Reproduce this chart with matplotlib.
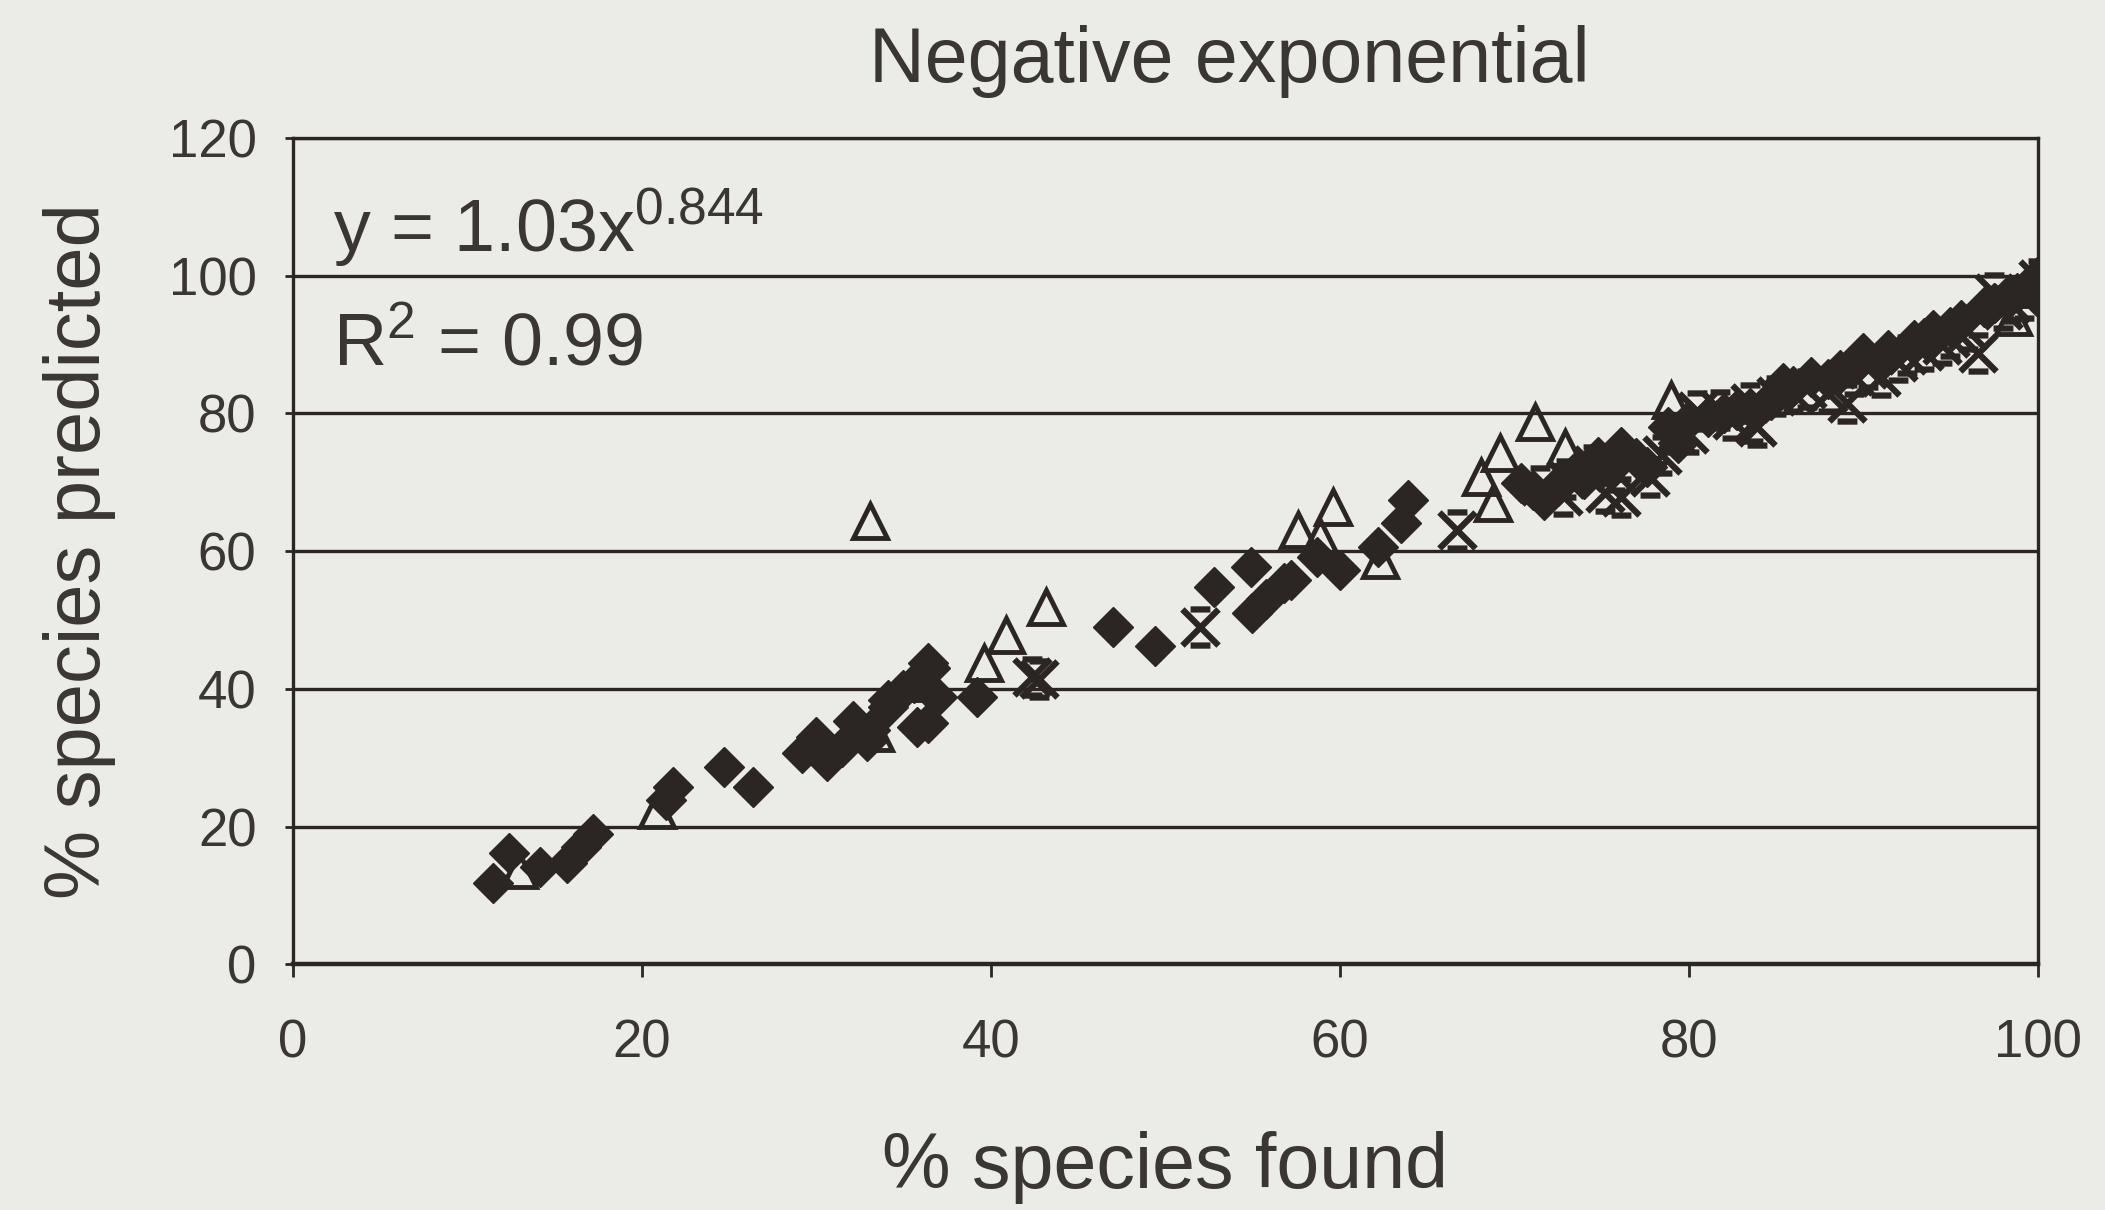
#
# Negative exponential: % species predicted vs % species found
#

import numpy as np
import matplotlib.pyplot as plt
from matplotlib.path import Path

# data (% found, % predicted)
diamondX = [11.5, 12.4, 14.2, 15.7, 16.5, 17.2, 21.4, 21.8, 24.7, 26.4,
            29.2, 30.0, 30.6, 31.5, 32.1, 32.9, 33.1, 34.1, 34.1, 35.0,
            35.6, 35.8, 36.4, 36.4, 36.5, 36.9, 39.2, 47.0, 49.4, 52.8,
            54.9, 55.0, 55.8, 56.8, 57.2, 58.7, 60.0, 62.2, 63.5, 63.9,
            70.4, 71.1, 71.7, 72.5, 73.6, 74.8, 76.1, 77.6, 78.8, 79.4,
            81.1, 82.8, 84.7, 85.4, 87.0, 88.7, 90.0, 91.4, 92.9, 94.0,
            95.6, 96.9, 99.8, 74.0, 75.5, 77.0, 80.0, 82.0, 83.5, 86.0,
            88.0, 89.5, 91.0, 93.5, 95.0, 97.5, 98.8, 100.0, 100.0]
diamondY = [11.8, 16.1, 14.1, 14.7, 17.0, 19.0, 23.8, 25.7, 28.6, 25.7,
            30.7, 33.0, 29.6, 31.5, 35.4, 32.5, 34.0, 37.3, 38.4, 39.8,
            40.8, 34.4, 35.0, 43.7, 43.1, 38.8, 38.8, 49.0, 46.3, 54.8,
            57.7, 51.0, 53.0, 55.4, 55.8, 59.1, 57.2, 60.6, 64.1, 67.4,
            69.9, 68.9, 67.4, 69.5, 71.8, 73.7, 75.1, 72.2, 78.0, 75.7,
            79.5, 80.5, 81.9, 84.4, 85.3, 86.3, 88.8, 89.2, 90.7, 92.1,
            93.6, 95.5, 98.9, 70.5, 72.0, 73.5, 79.0, 80.0, 80.8, 84.0,
            85.0, 87.0, 88.0, 91.0, 92.5, 96.0, 97.5, 100.0, 97.5]

triangleX = [13.0, 20.9, 33.1, 33.4, 35.8, 39.6, 40.9, 43.2, 57.6, 58.9,
             59.6, 62.3, 68.1, 68.8, 69.2, 71.2, 72.9, 79.0, 98.6, 99.6]
triangleY = [13.7, 22.4, 64.4, 33.6, 40.8, 43.7, 47.8, 51.9, 63.1, 62.0,
             66.4, 58.7, 70.8, 67.0, 74.2, 78.7, 75.0, 81.9, 94.0, 98.0]

starX = [42.4, 42.8, 52.0, 66.7, 73.0, 74.5, 75.2, 76.1, 77.8, 78.5,
         80.0, 81.8, 83.5, 83.7, 83.9, 86.0, 89.1, 89.5, 91.0, 92.5,
         94.5, 96.6, 97.5, 98.5, 100.0, 71.5, 72.8, 75.8, 79.2, 80.5,
         82.5, 85.0, 86.8, 88.0, 90.3, 92.0, 93.5, 95.0, 96.0, 98.0,
         99.2]
starY = [41.7, 41.5, 49.0, 63.1, 70.5, 72.5, 68.5, 67.8, 70.8, 74.0,
         77.0, 80.5, 81.5, 78.6, 78.0, 83.0, 81.5, 85.5, 85.3, 88.5,
         90.0, 88.8, 97.5, 96.0, 99.5, 69.5, 68.0, 71.5, 77.0, 80.3,
         79.0, 82.5, 83.5, 83.0, 86.5, 87.5, 89.0, 91.0, 92.0, 95.0,
         96.5]

xTicks = [0, 20, 40, 60, 80, 100]
yTicks = [0, 20, 40, 60, 80, 100, 120]

# colours
bgCol = '#ebebe8'
inkCol = '#2b2624'
textCol = '#3a3634'

plt.rcParams['font.family'] = ['Liberation Sans', 'DejaVu Sans']
plt.rcParams['mathtext.fontset'] = 'custom'
plt.rcParams['mathtext.rm'] = 'Liberation Sans'
plt.rcParams['mathtext.it'] = 'Liberation Sans'
plt.rcParams['mathtext.default'] = 'regular'

# star marker: an X with short bars top and bottom
starPath = Path([(-1, -1), (1, 1), (-1, 1), (1, -1),
                 (-0.55, 1), (0.55, 1), (-0.55, -1), (0.55, -1)],
                [Path.MOVETO, Path.LINETO, Path.MOVETO, Path.LINETO,
                 Path.MOVETO, Path.LINETO, Path.MOVETO, Path.LINETO])

fig = plt.figure(figsize=[21.05, 12.10], dpi=100, facecolor=bgCol)
ax = fig.add_axes([0.139, 0.203, 0.829, 0.683])
ax.set_facecolor(bgCol)

# grid lines behind points
for yv in yTicks[1:]:
    ax.axhline(yv, color=inkCol, linewidth=2.4, zorder=1)

ax.plot(diamondX, diamondY, 'D', markersize=20, color=inkCol,
        markeredgewidth=1, zorder=3)
ax.plot(starX, starY, linestyle='none', marker=starPath, markersize=26,
        markeredgecolor=inkCol, markerfacecolor='none', markeredgewidth=4.5, zorder=4)
ax.plot(triangleX, triangleY, '^', markersize=24, markerfacecolor='none',
        markeredgecolor=inkCol, markeredgewidth=3.5, zorder=5)

ax.set_xlim(0, 100)
ax.set_ylim(0, 120)
ax.set_xticks(xTicks)
ax.set_yticks(yTicks)

for side in ['top', 'left', 'right']:
    ax.spines[side].set_linewidth(2.4)
    ax.spines[side].set_color(inkCol)
ax.spines['bottom'].set_linewidth(3.2)
ax.spines['bottom'].set_color(inkCol)

ax.tick_params(axis='x', colors=inkCol, labelcolor=textCol, labelsize=38,
               length=9, width=2, pad=30, direction='out')
ax.tick_params(axis='y', colors=inkCol, labelcolor=textCol, labelsize=38,
               length=6, width=2, pad=20, direction='out')

ax.set_title('Negative exponential', fontsize=55.5, color=textCol, pad=40, x=0.537)
ax.set_xlabel('% species found', fontsize=55.5, color=textCol, labelpad=45)
ax.set_ylabel('% species predicted', fontsize=56, color=textCol, labelpad=38)

# fitted equation
ax.text(2.3, 103.4, r'y = 1.03x$^{0.844}$', fontsize=53, color=textCol,
        ha='left', va='baseline')
ax.text(2.3, 87.0, r'R$^{2}$ = 0.99', fontsize=53, color=textCol,
        ha='left', va='baseline')

plt.savefig('out.png', dpi=100, facecolor=bgCol)
